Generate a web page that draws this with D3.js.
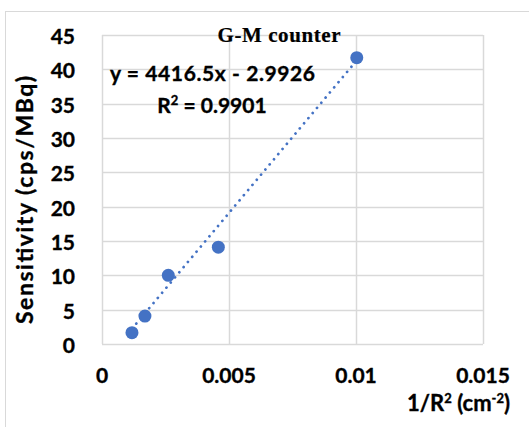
<!DOCTYPE html>
<html>
<head>
<meta charset="utf-8">
<script src="https://cdn.jsdelivr.net/npm/d3@7"></script>
<style>
  body { margin: 0; background: #fff; }
  text { font-family: Lato, "Open Sans", sans-serif; font-weight: bold; fill: #000; stroke: #000; stroke-width: 0.35px; }
</style>
</head>
<body>
<script>
// data
const xValues = [0.00118, 0.00169, 0.00261, 0.00458, 0.01003];
const yValues = [1.65, 4.07, 10.0, 14.1, 41.7];
const xTicks = [0, 0.005, 0.01, 0.015];
const yTicks = [0, 5, 10, 15, 20, 25, 30, 35, 40, 45];
const slope = 4416.5, intercept = -2.9926;

const width = 529, height = 427;
const margin = {top: 35, right: 46, bottom: 83, left: 102};
const blue = "#4472C4";

const svg = d3.select("body").append("svg")
    .attr("width", width)
    .attr("height", height);

// chart area border
svg.append("rect")
    .attr("x", 5.5).attr("y", 11.5)
    .attr("width", 600).attr("height", 500)
    .attr("fill", "none")
    .attr("stroke", "#d9d9d9");

const x = d3.scaleLinear()
    .domain([0, 0.015])
    .range([margin.left, width - margin.right]);

const y = d3.scaleLinear()
    .domain([0, 45])
    .range([height - margin.bottom, margin.top]);

// grid
svg.append("g")
    .selectAll("line")
    .data(yTicks)
    .join("line")
      .attr("x1", x(0)).attr("x2", x(0.015))
      .attr("y1", d => Math.round(y(d)) + 0.5)
      .attr("y2", d => Math.round(y(d)) + 0.5)
      .attr("stroke", "#d9d9d9")
      .attr("stroke-width", 1.5);

svg.append("g")
    .selectAll("line")
    .data(xTicks)
    .join("line")
      .attr("x1", d => Math.round(x(d)) + 0.5)
      .attr("x2", d => Math.round(x(d)) + 0.5)
      .attr("y1", y(0)).attr("y2", y(45))
      .attr("stroke", "#d9d9d9")
      .attr("stroke-width", 1.5);

// tick labels
svg.append("g")
    .selectAll("text")
    .data(yTicks)
    .join("text")
      .attr("x", 75)
      .attr("y", d => y(d) + 9)
      .attr("text-anchor", "end")
      .style("font-size", "21px")
      .text(d => d);

svg.append("g")
    .selectAll("text")
    .data(xTicks)
    .join("text")
      .attr("x", d => x(d))
      .attr("y", 383)
      .attr("text-anchor", "middle")
      .style("font-size", "21px")
      .text(d => d);

// trendline
const xr = d3.extent(xValues);
svg.append("line")
    .attr("x1", x(xr[0])).attr("y1", y(slope * xr[0] + intercept))
    .attr("x2", x(xr[1])).attr("y2", y(slope * xr[1] + intercept))
    .attr("stroke", blue)
    .attr("stroke-width", 2.7)
    .attr("stroke-linecap", "round")
    .attr("stroke-dasharray", "0.1 6.6");

// points
svg.append("g")
    .selectAll("circle")
    .data(xValues)
    .join("circle")
      .attr("cx", d => x(d))
      .attr("cy", (d, i) => y(yValues[i]))
      .attr("r", 6.5)
      .attr("fill", blue);

// title
svg.append("text")
    .attr("x", 279)
    .attr("y", 42)
    .attr("text-anchor", "middle")
    .style("font-family", "'Liberation Serif', 'DejaVu Serif', serif")
    .style("font-size", "21px")
    .style("stroke-width", "0.2px")
    .attr("textLength", 123)
    .text("G-M counter");

// equation
svg.append("text")
    .attr("x", 110)
    .attr("y", 81)
    .style("font-size", "21px")
    .attr("textLength", 205)
    .text("y = 4416.5x - 2.9926");

const r2 = svg.append("text")
    .attr("x", 212)
    .attr("y", 113)
    .attr("text-anchor", "middle")
    .style("font-size", "21px");
r2.append("tspan").text("R");
r2.append("tspan").attr("dy", -8).style("font-size", "13px").text("2");
r2.append("tspan").attr("dy", 8).text(" = 0.9901");

// axis titles
const xt = svg.append("text")
    .attr("x", 510)
    .attr("y", 411)
    .attr("text-anchor", "end")
    .style("font-size", "22px");
xt.append("tspan").text("1/R");
xt.append("tspan").attr("dy", -8).style("font-size", "13px").text("2");
xt.append("tspan").attr("dy", 8).text(" (cm");
xt.append("tspan").attr("dy", -8).style("font-size", "13px").text("-2");
xt.append("tspan").attr("dy", 8).text(")");

svg.append("text")
    .attr("transform", "translate(33,200) rotate(-90)")
    .attr("text-anchor", "middle")
    .style("font-size", "23px")
    .attr("textLength", 248)
    .text("Sensitivity (cps/MBq)");
</script>
</body>
</html>
